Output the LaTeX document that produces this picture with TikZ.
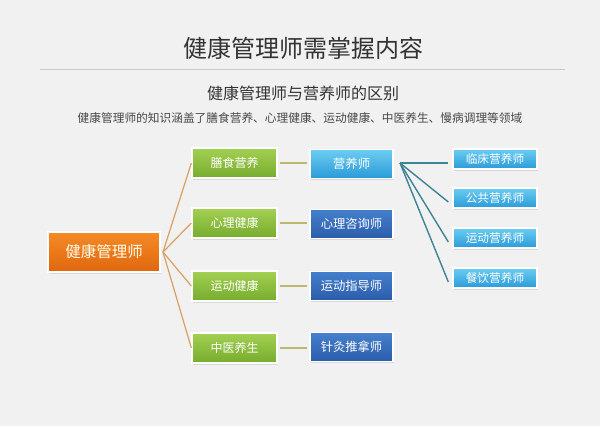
\documentclass[tikz,border=0pt]{standalone}
\usepackage{fontspec}
\setmainfont{Noto Sans CJK SC}
\usetikzlibrary{shadows}
\definecolor{bgc}{HTML}{F1F1F1}
\definecolor{titlec}{HTML}{333333}
\definecolor{oratop}{HTML}{F58A26}
\definecolor{orabot}{HTML}{E0670E}
\definecolor{grntop}{HTML}{A3D052}
\definecolor{grnbot}{HTML}{76AC2E}
\definecolor{lbtop}{HTML}{6CCDF2}
\definecolor{lbbot}{HTML}{2A9AD9}
\definecolor{dbtop}{HTML}{4580CC}
\definecolor{dbbot}{HTML}{2B5CAA}
\definecolor{oraline}{HTML}{D9A062}
\definecolor{oliveline}{HTML}{BDB870}
\definecolor{tealline}{HTML}{3E8593}
\definecolor{rulec}{HTML}{C9C9C9}
\tikzset{
  box/.style={draw=white, line width=1.3pt, inner sep=0pt, text=white,
    drop shadow={opacity=0.22, shadow xshift=1.2pt, shadow yshift=-1.5pt}},
  orabox/.style={box, top color=oratop, bottom color=orabot, minimum width=112pt, minimum height=40pt,
    font=\fontsize{15.5}{16}\selectfont, text=white!92!yellow},
  grnbox/.style={box, top color=grntop, bottom color=grnbot, minimum width=85pt, minimum height=30pt,
    font=\fontsize{12}{12}\selectfont},
  lbbox/.style={box, top color=lbtop, bottom color=lbbot, minimum width=83pt, minimum height=29pt,
    font=\fontsize{12.5}{13}\selectfont},
  dbbox/.style={box, top color=dbtop, bottom color=dbbot, minimum width=83pt, minimum height=29pt,
    font=\fontsize{12.3}{13}\selectfont},
  rbox/.style={box, top color=lbtop, bottom color=lbbot, minimum width=84pt, minimum height=20pt,
    font=\fontsize{11.7}{12}\selectfont},
  oconn/.style={draw=oraline, line width=1.2pt},
  gconn/.style={draw=oliveline, line width=1.2pt},
  tconn/.style={draw=tealline, line width=1.4pt},
}
\begin{document}
\begin{tikzpicture}[x=1pt,y=-1pt]
\fill[bgc] (0,0) rectangle (600,426);
\useasboundingbox (0,0) rectangle (600,426);
\node[font=\fontsize{24}{25}\selectfont, text=titlec] (title) at (303,48.5) {健康管理师需掌握内容};
\coordinate (rl) at (40,69);
\coordinate (rr) at (565,69);
\draw[rulec, line width=0.8pt] (rl) -- (rr);
\node[font=\fontsize{16}{17}\selectfont, text=titlec] (sub) at (303,93) {健康管理师与营养师的区别};
\node[font=\fontsize{11.7}{12}\selectfont, text=titlec!90] (desc) at (300,118) {健康管理师的知识涵盖了膳食营养、心理健康、运动健康、中医养生、慢病调理等领域};

\node[orabox] (hm) at (104,252) {健康管理师};

\node[grnbox] (g1) at (234.5,163) {膳食营养};
\node[grnbox] (g2) at (234.5,223) {心理健康};
\node[grnbox] (g3) at (234.5,286) {运动健康};
\node[grnbox] (g4) at (234.5,348) {中医养生};

\node[lbbox] (b1) at (351.5,164) {营养师};
\node[dbbox] (b2) at (351.5,224) {心理咨询师};
\node[dbbox] (b3) at (351.5,286) {运动指导师};
\node[dbbox] (b4) at (351.5,347) {针灸推拿师};

\node[rbox] (r1) at (495,159) {临床营养师};
\node[rbox] (r2) at (495,198) {公共营养师};
\node[rbox] (r3) at (495,238) {运动营养师};
\node[rbox] (r4) at (495,278) {餐饮营养师};

\coordinate (hub) at (163,252);
\foreach \g in {g1,g2,g3,g4} \draw[oconn] (hub) -- (\g.west);
\foreach \i in {1,2,3,4} \draw[gconn] ([xshift=2pt]g\i.east) -- ([xshift=-2pt]g\i.east -| b\i.west);
\coordinate (bhub) at (400,163);
\draw[tconn] (bhub) -- ([xshift=-4pt]r1.west |- bhub);
\foreach \r in {r2,r3,r4} \draw[tconn] (bhub) -- ([xshift=-4pt,yshift=-4pt]\r.west);
\end{tikzpicture}
\end{document}
